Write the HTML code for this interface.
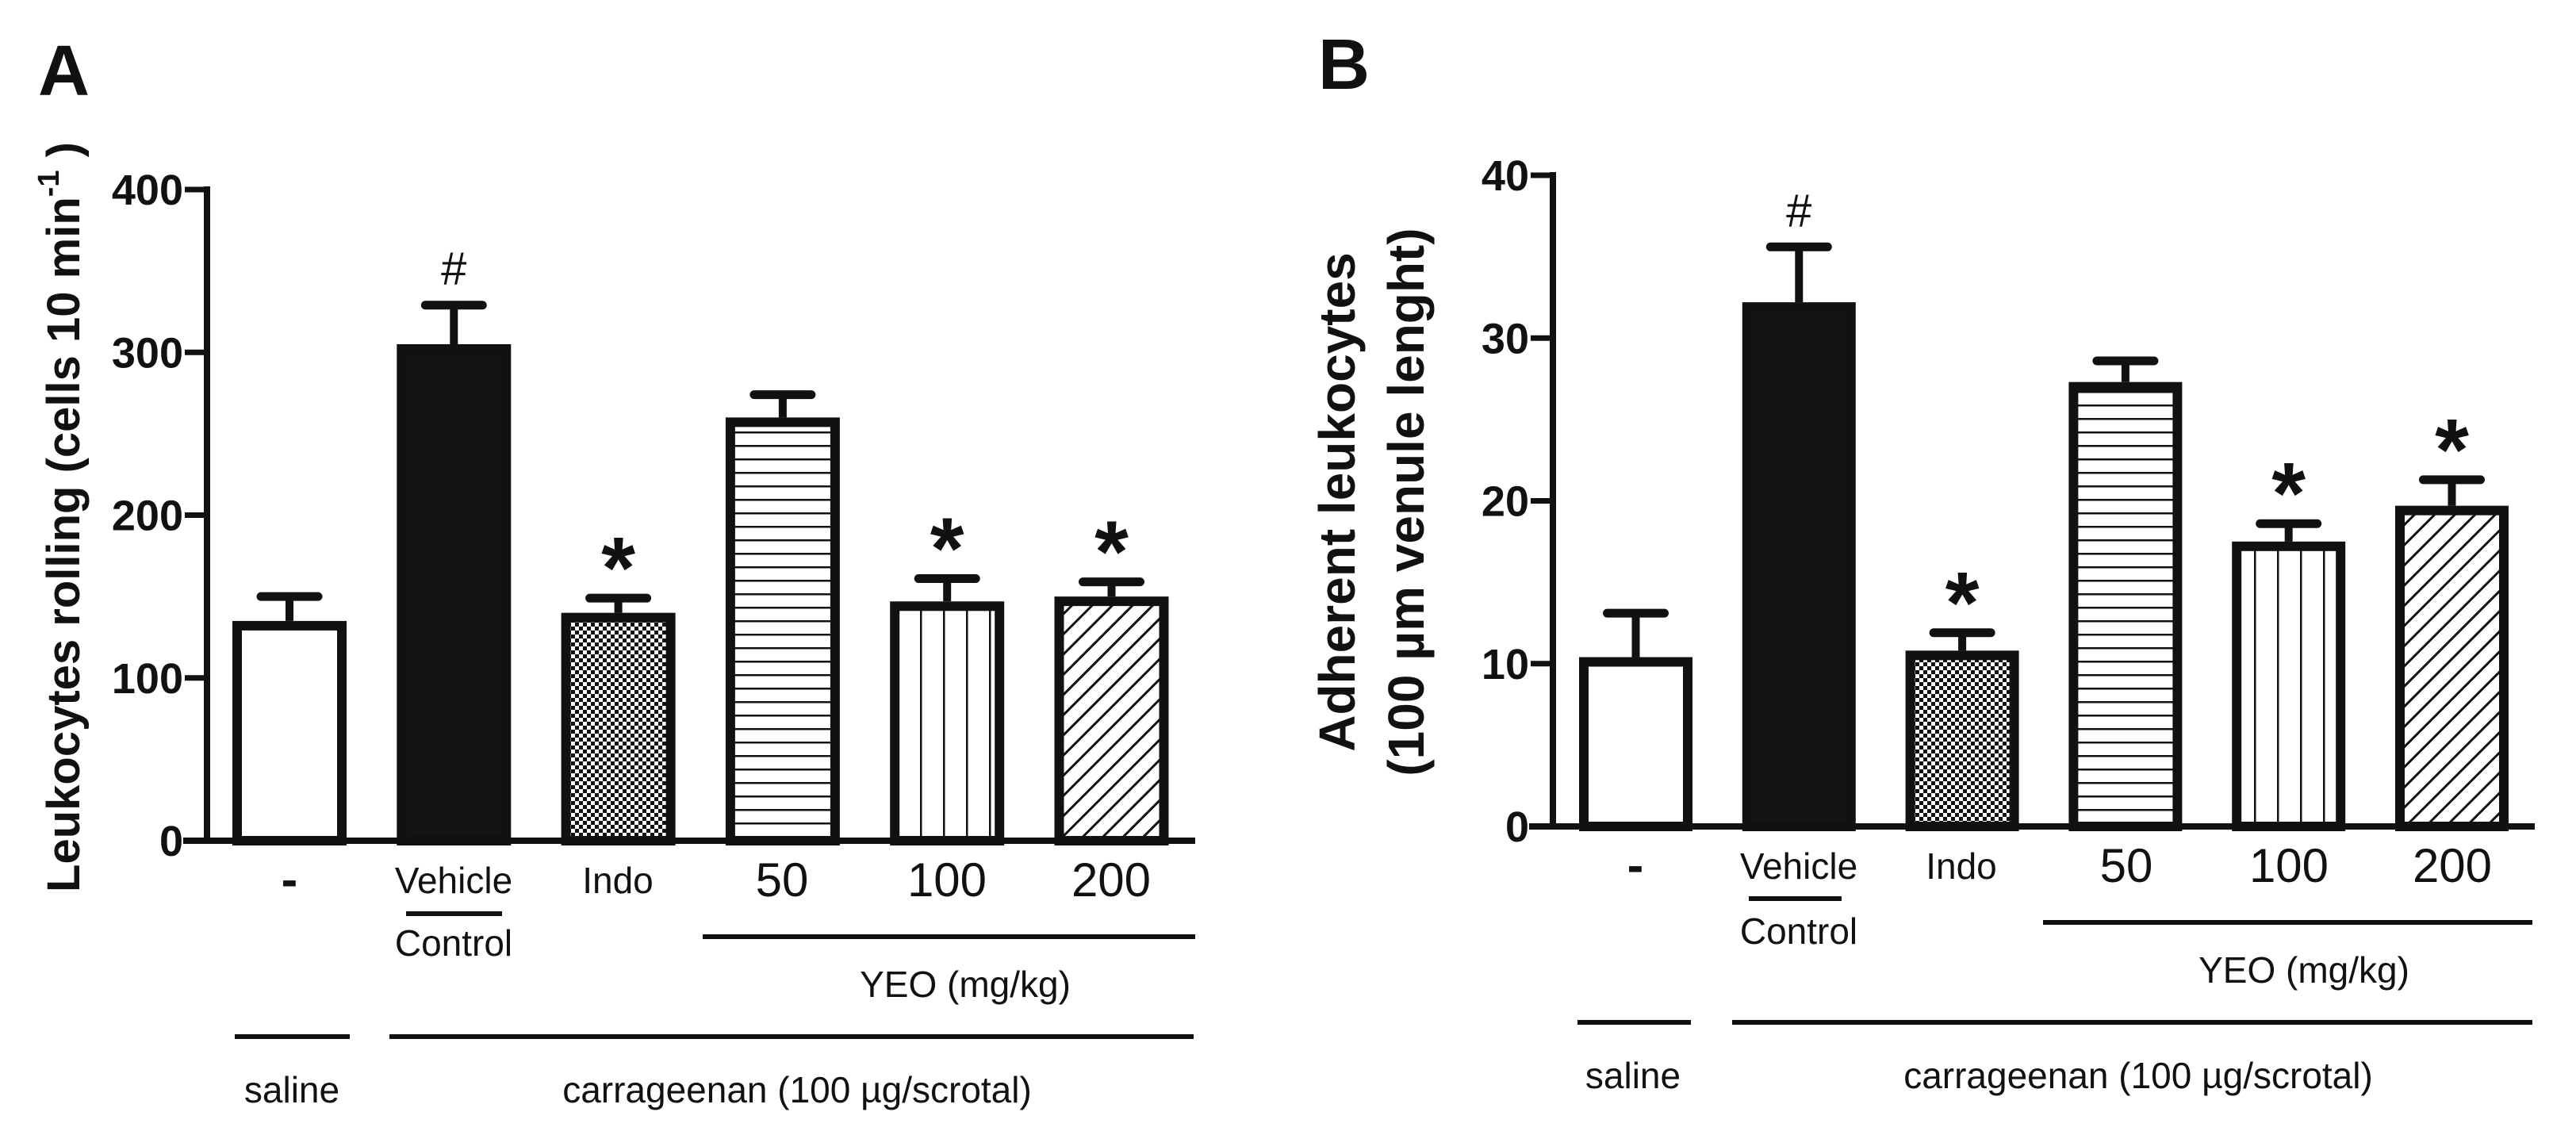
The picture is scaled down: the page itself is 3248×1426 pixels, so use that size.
<!DOCTYPE html>
<html><head><meta charset="utf-8"><style>
html,body{margin:0;padding:0;background:#fff;}
svg{display:block;font-family:"Liberation Sans",Arial,sans-serif;}
</style></head><body>
<svg id="fig" width="3248" height="1426" viewBox="0 0 3248 1426">
<defs>
<pattern id="pChk" width="10" height="10" patternUnits="userSpaceOnUse"><rect width="10" height="10" fill="#fff"/><rect width="5" height="5" fill="#111"/><rect x="5" y="5" width="5" height="5" fill="#111"/></pattern>
<pattern id="pHor" width="17" height="17" patternUnits="userSpaceOnUse"><rect width="17" height="17" fill="#fff"/><rect y="0" width="17" height="2.5" fill="#111"/></pattern>
<pattern id="pVer" width="29" height="29" patternUnits="userSpaceOnUse"><rect width="29" height="29" fill="#fff"/><rect x="0" width="2.5" height="29" fill="#111"/></pattern>
<pattern id="pDia" width="18" height="18" patternUnits="userSpaceOnUse" patternTransform="rotate(45)"><rect width="18" height="18" fill="#fff"/><rect x="0" width="3" height="18" fill="#111"/></pattern>
</defs>
</svg>
<script>
const categories = ["-", "Vehicle", "Indo", "50", "100", "200"];
const fills = ["#fff", "#141414", "url(#pChk)", "url(#pHor)", "url(#pVer)", "url(#pDia)"];
const valuesA = [135, 305, 140, 260, 147, 150];
const errorsA = [15, 24, 9, 14, 14, 9];
const marksA = ["", "#", "*", "", "*", "*"];
const ticksA = [0, 100, 200, 300, 400];
const valuesB = [10.4, 32.2, 10.8, 27.3, 17.5, 19.7];
const errorsB = [2.7, 3.4, 1.1, 1.3, 1.1, 1.6];
const marksB = ["", "#", "*", "", "*", "*"];
const ticksB = [0, 10, 20, 30, 40];

const NS = "http://www.w3.org/2000/svg";
const svg = document.getElementById('fig');
function mk(tag, attrs, parent, txt){
  const e = document.createElementNS(NS, tag);
  for (const k in attrs) e.setAttribute(k, attrs[k]);
  if (txt !== undefined) e.textContent = txt;
  (parent || svg).appendChild(e);
  return e;
}

function panel(p){
  const g = mk('g', {});
  
  
  const y = v => p.y0 - (v / p.max) * (p.y0 - p.yTop);
  const x = i => p.x1 + i * p.step;
  const ax = mk('line', {x1:p.ax, y1:p.yTop-4, x2:p.ax, y2:p.y0+4, stroke:'#111','stroke-width':8}, g);
  
  
  const xa = mk('line', {x1:p.ax-30, y1:p.y0, x2:p.axEnd, y2:p.y0, stroke:'#111','stroke-width':8}, g);
  
  
  p.ticks.forEach(t => {
    const tl = mk('line', {x1:p.ax-28, y1:y(t), x2:p.ax, y2:y(t), stroke:'#111','stroke-width':7}, g);
    
    
    const tx = mk('text', {x:p.ax-30, y:y(t)+19, 'text-anchor':'end','font-size':54,'font-weight':'bold',fill:'#111'}, g, String(t));
    
    
  });
  p.values.forEach((v, i) => {
    const cx = x(i) + p.bw / 2;
    const et = y(v + p.errors[i]);
    const st = mk('line', {x1:cx, y1:y(v), x2:cx, y2:et, stroke:'#111','stroke-width':10}, g);
    
    
    const cp = mk('line', {x1:cx-36, y1:et, x2:cx+36, y2:et, stroke:'#111','stroke-width':11,'stroke-linecap':'round'}, g);
    
    
    const r = mk('rect', {x:x(i)+6, y:y(v)+6, width:p.bw-12, height:p.y0-y(v)-6, fill:fills[i], stroke:'#111','stroke-width':12}, g);
    
    
    if (p.marks[i]) {
      const isHash = p.marks[i] === '#';
      const m = mk('text', {x:cx, y:et - (isHash ? 26 : 0), 'text-anchor':'middle','font-size':isHash ? 58 : 110,'font-weight':'bold',fill:'#111'}, g, p.marks[i]);
      if (isHash) m.setAttribute('font-weight', 'normal');
      
      
    }
  });
  return {g, x, y};
}

function txt(parent, name, attrs, s){
  const t = mk('text', Object.assign({fill:'#111'}, attrs), parent, s);
  
  
  return t;
}
function hline(parent, name, x1, x2, yy){
  const l = mk('line', {x1, y1:yy, x2, y2:yy, stroke:'#111','stroke-width':6}, parent);
  
  
}

function labels(g, o){
  const cx = o.cx;
  txt(g, 'x-label-saline-dash', {x:cx[0], y:o.ly, 'text-anchor':'middle','font-size':62,'font-weight':'bold'}, '-');
  txt(g, 'x-label-vehicle', {x:cx[1], y:o.ly-4, 'text-anchor':'middle','font-size':46}, 'Vehicle');
  hline(g, 'vehicle-control-divider', o.ul[0], o.ul[1], o.ulY);
  txt(g, 'x-label-control', {x:cx[1], y:o.ctY, 'text-anchor':'middle','font-size':46}, 'Control');
  txt(g, 'x-label-indo', {x:cx[2], y:o.ly-4, 'text-anchor':'middle','font-size':46}, 'Indo');
  [3,4,5].forEach(i => txt(g, 'x-label-dose-' + categories[i], {x:cx[i], y:o.ly, 'text-anchor':'middle','font-size':60}, categories[i]));
  hline(g, 'yeo-bracket-line', o.yeo[0], o.yeo[1], o.yeoY);
  txt(g, 'yeo-label', {x:o.yeoTx, y:o.yeoTy, 'text-anchor':'middle','font-size':46}, 'YEO (mg/kg)');
  hline(g, 'saline-bracket-line', o.sal[0], o.sal[1], o.salY);
  hline(g, 'carrageenan-bracket-line', o.car[0], o.car[1], o.salY);
  txt(g, 'saline-label', {x:o.salTx, y:o.botY, 'text-anchor':'middle','font-size':46}, 'saline');
  const c = txt(g, 'carrageenan-label', {x:o.carTx, y:o.botY, 'text-anchor':'middle','font-size':46}, 'carrageenan (100 ');
  const ts = mk('tspan', {}, c, 'µ');  
  c.appendChild(document.createTextNode('g/scrotal)'));
}

// Panel A
const A = panel({name:'panel-a', ax:261, axEnd:1507, yTop:239, y0:1060, max:400, x1:293, step:207.3, bw:144,
  values:valuesA, errors:errorsA, marks:marksA, ticks:ticksA});
txt(A.g, 'panel-label-a', {x:48, y:120, 'font-size':90, 'font-weight':'bold'}, 'A');
const ytA = txt(A.g, 'y-axis-title', {x:0, y:0, 'font-size':58, 'font-weight':'bold', 'text-anchor':'middle', transform:'translate(100,652) rotate(-90)'}, 'Leukocytes rolling (cells 10 min');
const supA = mk('tspan', {dy:-26, 'font-size':38}, ytA, '-1');  
const supB = mk('tspan', {dy:26}, ytA, ' )');  
labels(A.g, {cx:[365,572,779,986,1194,1401], ly:1130, ul:[512,633], ulY:1152, ctY:1205,
  yeo:[886,1507], yeoY:1181, yeoTx:1217, yeoTy:1257, sal:[296,441], car:[491,1505], salY:1307, salTx:368, carTx:1005, botY:1390});

// Panel B
const B = panel({name:'panel-b', ax:1958, axEnd:3196, yTop:221, y0:1042, max:40, x1:1991, step:205.8, bw:143,
  values:valuesB, errors:errorsB, marks:marksB, ticks:ticksB});
txt(B.g, 'panel-label-b', {x:1662, y:112, 'font-size':90, 'font-weight':'bold'}, 'B');
txt(B.g, 'y-axis-title-line1', {x:0, y:0, 'font-size':64, 'font-weight':'bold', 'text-anchor':'middle', transform:'translate(1708,633) rotate(-90)'}, 'Adherent leukocytes');
txt(B.g, 'y-axis-title-line2', {x:0, y:0, 'font-size':64, 'font-weight':'bold', 'text-anchor':'middle', transform:'translate(1795,633) rotate(-90)'}, '(100 µm venule lenght)');
labels(B.g, {cx:[2062,2268,2473,2681,2886,3092], ly:1112, ul:[2205,2322], ulY:1133, ctY:1190,
  yeo:[2576,3193], yeoY:1163, yeoTx:2905, yeoTy:1239, sal:[1989,2132], car:[2184,3193], salY:1289, salTx:2059, carTx:2696, botY:1372});
</script>
</body></html>
